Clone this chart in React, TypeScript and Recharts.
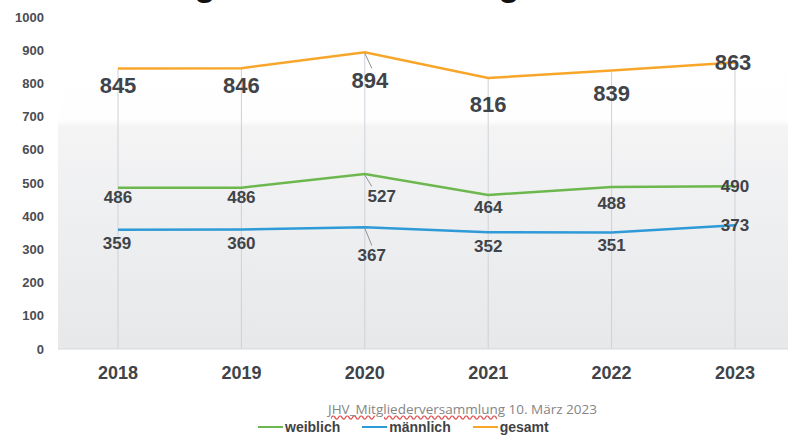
import React from 'react';
import { LineChart, Line, XAxis, YAxis, CartesianGrid, ReferenceLine } from 'recharts';

const YEARS = ['2018', '2019', '2020', '2021', '2022', '2023'];
const WEIBLICH = [486, 486, 527, 464, 488, 490];
const MAENNLICH = [359, 360, 367, 352, 351, 373];
const GESAMT = [845, 846, 894, 816, 839, 863];
const Y_TICKS = [0, 100, 200, 300, 400, 500, 600, 700, 800, 900, 1000];
const TITLE = 'Mitgliederentwicklung';
const FOOTER_UNDERLINED = 'JHV_Mitgliederversammlung';
const FOOTER_REST = ' 10. März 2023';

// label offsets (dx, dy) relative to each point - styling only
const GESAMT_LABEL_OFFSETS = [[0, 17], [0, 17], [5, 28], [0, 26], [0, 23], [-2, 0]];
const WEIBLICH_LABEL_OFFSETS = [[0, 10], [0, 10], [17, 22], [0, 13], [0, 17], [0, 0]];
const MAENNLICH_LABEL_OFFSETS = [[-1, 14], [0, 14], [7, 28], [0, 14], [0, 13], [0, 0]];
const LEADER_INDEX = 2;

const data = YEARS.map((year, i) => ({
  year,
  weiblich: WEIBLICH[i],
  maennlich: MAENNLICH[i],
  gesamt: GESAMT[i],
}));

const SERIES = [
  { key: 'weiblich', name: 'weiblich', color: '#6cb84e', fontSize: 17, offsets: WEIBLICH_LABEL_OFFSETS },
  { key: 'maennlich', name: 'männlich', color: '#2f9ad8', fontSize: 17, offsets: MAENNLICH_LABEL_OFFSETS },
  { key: 'gesamt', name: 'gesamt', color: '#f8a62a', fontSize: 22, offsets: GESAMT_LABEL_OFFSETS },
];

const FONT = '"Liberation Sans", Arial, sans-serif';
const TEXT_COLOR = '#404348';

function makeLabel(offsets: number[][], fontSize: number) {
  return (props: any) => {
    const { x, y, value, index } = props;
    if (x == null || y == null) return null;
    const [dx, dy] = offsets[index] || [0, 0];
    const cx = x + dx;
    const cy = y + dy;
    return (
      <g key={`lbl-${index}`}>
        {index === LEADER_INDEX && (
          <line
            x1={x}
            y1={y + 1}
            x2={x + 7}
            y2={cy - fontSize * 0.45 - 2}
            stroke="#8d9299"
            strokeWidth={1}
          />
        )}
        <text
          x={cx}
          y={cy}
          textAnchor="middle"
          dominantBaseline="central"
          fontFamily={FONT}
          fontWeight="bold"
          fontSize={fontSize}
          fill={TEXT_COLOR}
        >
          {value}
        </text>
      </g>
    );
  };
}

export default function App() {
  return (
    <div
      style={{
        position: 'absolute',
        left: 0,
        top: 0,
        width: 788,
        height: 438,
        overflow: 'hidden',
        background: '#ffffff',
        fontFamily: FONT,
      }}
    >
      <div
        style={{
          position: 'absolute',
          left: 142,
          top: -35,
          fontSize: 36,
          fontWeight: 'bold',
          color: '#111',
          lineHeight: '36px',
          whiteSpace: 'nowrap',
        }}
      >
        {TITLE}
      </div>
      <LineChart
        width={800}
        height={438}
        data={data}
        margin={{ top: 17, right: 5, bottom: 49, left: 0 }}
        style={{ position: 'absolute', left: 0, top: 0 }}
      >
        <defs>
          <linearGradient id="plotBg" x1="0" y1="0" x2="0" y2="1">
            <stop offset="0" stopColor="#ffffff" />
            <stop offset="0.31" stopColor="#fefefe" />
            <stop offset="0.33" stopColor="#f4f4f5" />
            <stop offset="1" stopColor="#e6e8ea" />
          </linearGradient>
        </defs>
        <CartesianGrid horizontal={false} vertical={false} fill="url(#plotBg)" stroke="none" />
        <XAxis
          dataKey="year"
          padding={{ left: 60, right: 60 }}
          axisLine={{ stroke: '#d6d9dd' }}
          tickLine={false}
          tickMargin={11}
          height={40}
          tick={{ fontSize: 18, fontWeight: 'bold', fill: TEXT_COLOR, fontFamily: FONT }}
        />
        <YAxis
          width={58}
          domain={[0, 1000]}
          ticks={Y_TICKS}
          interval={0}
          axisLine={false}
          tickLine={false}
          tickMargin={8}
          tick={{ fontSize: 13, fontWeight: 'bold', fill: '#4a4d52', fontFamily: FONT }}
        />
        {YEARS.map((yr, i) => (
          <ReferenceLine
            key={yr}
            segment={[{ x: yr, y: 0 }, { x: yr, y: GESAMT[i] }]}
            stroke="#cdd2d8"
            strokeWidth={1}
            ifOverflow="visible"
          />
        ))}
        {SERIES.map((s) => (
          <Line
            key={s.key}
            type="linear"
            dataKey={s.key}
            name={s.name}
            stroke={s.color}
            strokeWidth={2.5}
            dot={false}
            activeDot={false}
            isAnimationActive={false}
            label={makeLabel(s.offsets, s.fontSize)}
          />
        ))}
      </LineChart>
      <div
        style={{
          position: 'absolute',
          left: 328,
          top: 401,
          fontFamily: '"Open Sans", sans-serif',
          fontSize: 13.5,
          color: '#858585',
          whiteSpace: 'nowrap',
          lineHeight: '17px',
        }}
      >
        <span
          style={{
            textDecorationLine: 'underline',
            textDecorationStyle: 'wavy',
            textDecorationColor: '#e05050',
          }}
        >
          {FOOTER_UNDERLINED}
        </span>
        {FOOTER_REST}
      </div>
      <div
        style={{
          position: 'absolute',
          left: 258,
          top: 419,
          display: 'flex',
          alignItems: 'center',
          gap: 22,
          fontSize: 14,
          fontWeight: 'bold',
          color: '#3f4246',
          lineHeight: '16px',
          whiteSpace: 'nowrap',
        }}
      >
        {SERIES.map((s) => (
          <div key={s.key} style={{ display: 'flex', alignItems: 'center' }}>
            <span
              style={{
                display: 'inline-block',
                width: 25,
                height: 2,
                background: s.color,
                marginRight: 2,
              }}
            />
            <span>{s.name}</span>
          </div>
        ))}
      </div>
    </div>
  );
}
